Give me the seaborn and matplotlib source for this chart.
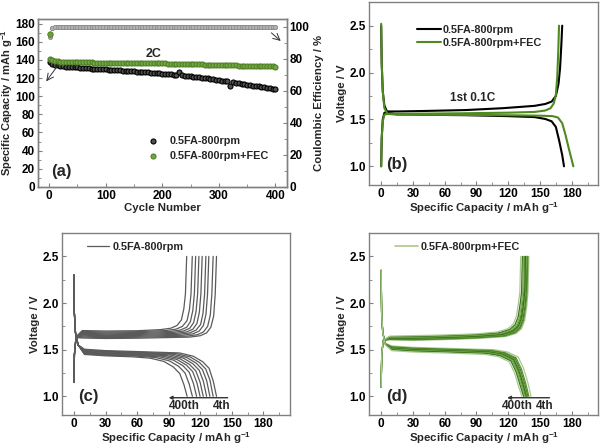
import matplotlib
matplotlib.use("Agg")
import matplotlib.pyplot as plt
from matplotlib.ticker import MultipleLocator, FormatStrFormatter
from matplotlib.lines import Line2D
import seaborn as sns

# ---------------- (a) cycling at 2C (every 5th cycle) ----------------
cycles = [1] + list(range(5, 401, 5))
cap_base = [137.5, 135.5, 134.5, 134.0, 133.5, 133.0, 132.8, 132.5, 132.2, 132.0,
            131.8, 131.5, 131.3, 131.0, 130.8, 130.6, 130.4, 130.2, 130.0, 129.8,
            129.6, 129.4, 129.2, 129.0, 128.8, 128.6, 128.4, 128.2, 128.0, 127.7,
            127.5, 127.3, 127.0, 126.8, 126.6, 126.3, 126.0, 125.8, 125.5, 125.2,
            125.0, 124.7, 124.4, 124.1, 123.8, 123.5, 126.5, 123.0, 122.6, 122.3,
            122.0, 121.6, 121.2, 120.8, 120.4, 120.0, 119.6, 119.2, 118.7, 118.3,
            117.8, 117.3, 116.8, 116.3, 111.0, 115.3, 114.8, 114.3, 113.8, 113.3,
            112.8, 112.3, 111.8, 111.3, 110.8, 110.3, 109.8, 109.3, 108.8, 108.3,
            107.8]
cap_fec = [141.0, 139.5, 139.0, 138.6, 138.3, 138.1, 137.9, 137.8, 137.7, 137.6,
           137.5, 137.5, 137.4, 137.4, 137.3, 137.3, 137.2, 137.2, 137.1, 137.1,
           137.0, 137.0, 136.9, 136.9, 136.9, 136.8, 136.8, 136.8, 136.7, 136.7,
           136.7, 136.6, 136.6, 136.6, 136.5, 136.5, 136.5, 136.4, 136.9, 136.4,
           136.3, 136.2, 136.1, 136.0, 135.9, 135.8, 135.8, 135.7, 135.6, 135.5,
           135.5, 135.4, 135.3, 135.2, 135.1, 135.0, 134.9, 134.9, 134.8, 134.7,
           134.6, 134.5, 134.4, 134.3, 134.2, 134.1, 134.0, 133.9, 133.9, 133.8,
           133.7, 133.6, 133.5, 133.4, 133.3, 133.2, 133.2, 133.1, 133.0, 132.9,
           132.8]
ce_base = [93.8, 99.3, 99.6, 99.7, 99.8, 99.8, 99.8, 99.8, 99.8, 99.8,
           99.8, 99.8, 99.8, 99.8, 99.8, 99.8, 99.8, 99.8, 99.8, 99.8,
           99.8, 99.8, 99.8, 99.8, 99.8, 99.8, 99.8, 99.8, 99.8, 99.8,
           99.8, 99.8, 99.8, 99.8, 99.8, 99.8, 99.8, 99.8, 99.8, 99.8,
           99.8, 99.8, 99.8, 99.8, 99.8, 99.8, 99.8, 99.8, 99.8, 99.8,
           99.8, 99.8, 99.8, 99.8, 99.8, 99.8, 99.8, 99.8, 99.8, 99.8,
           99.8, 99.8, 99.8, 99.8, 99.8, 99.8, 99.8, 99.8, 99.8, 99.8,
           99.8, 99.8, 99.8, 99.8, 99.8, 99.8, 99.8, 99.8, 99.8, 99.8,
           99.8]
ce_fec = [95.4, 99.4, 99.6, 99.7, 99.8, 99.8, 99.8, 99.8, 99.8, 99.8,
          99.8, 99.8, 99.8, 99.8, 99.8, 99.8, 99.8, 99.8, 99.8, 99.8,
          99.8, 99.8, 99.8, 99.8, 99.8, 99.8, 99.8, 99.8, 99.8, 99.8,
          99.8, 99.8, 99.8, 99.8, 99.8, 99.8, 99.8, 99.8, 99.8, 99.8,
          99.8, 99.8, 99.8, 99.8, 99.8, 99.8, 99.8, 99.8, 99.8, 99.8,
          99.8, 99.8, 99.8, 99.8, 99.8, 99.8, 99.8, 99.8, 99.8, 99.8,
          99.8, 99.8, 99.8, 99.8, 99.8, 99.8, 99.8, 99.8, 99.8, 99.8,
          99.8, 99.8, 99.8, 99.8, 99.8, 99.8, 99.8, 99.8, 99.8, 99.8,
          99.8]

# ---------------- (b) first cycle at 0.1C ----------------
b_base_dis_cap = [0, 0.5, 1.5, 3, 6, 15, 40, 80, 120, 145, 155, 161, 165, 168, 171, 172.7]
b_base_dis_v = [2.5, 2.1, 1.8, 1.65, 1.57, 1.555, 1.55, 1.545, 1.535, 1.525, 1.505, 1.48, 1.42, 1.28, 1.12, 1.0]
b_base_chg_cap = [0, 0.5, 1.5, 3, 6, 15, 40, 80, 115, 145, 155, 161, 165, 167.5, 169, 170.2, 171]
b_base_chg_v = [1.0, 1.3, 1.5, 1.57, 1.585, 1.585, 1.59, 1.60, 1.62, 1.645, 1.665, 1.69, 1.75, 1.88, 2.05, 2.3, 2.5]
b_fec_dis_cap = [0, 0.5, 1.5, 3, 6, 15, 40, 80, 120, 150, 162, 167, 171, 174, 177, 179.5, 181.5]
b_fec_dis_v = [2.52, 2.1, 1.8, 1.62, 1.56, 1.55, 1.55, 1.548, 1.545, 1.54, 1.535, 1.52, 1.46, 1.34, 1.2, 1.09, 1.0]
b_fec_chg_cap = [0, 0.5, 1.5, 3, 6, 15, 40, 80, 120, 145, 155, 160, 163, 165, 166.3, 167.2, 168]
b_fec_chg_v = [1.0, 1.3, 1.48, 1.55, 1.56, 1.56, 1.562, 1.566, 1.572, 1.58, 1.595, 1.62, 1.67, 1.76, 1.95, 2.2, 2.5]

# ---------------- (c) 0.5FA-800rpm, 4th ... 400th ----------------
c_chg_cap = [
    [0, 0.5, 2, 8, 30, 60, 110, 120, 126, 130, 132.7, 134.2, 135.4],
    [0, 0.5, 2, 8, 30, 60, 107, 117, 123, 127, 129.5, 131.0, 132.2],
    [0, 0.5, 2, 8, 30, 60, 103, 113, 119, 123, 125.4, 126.9, 128.1],
    [0, 0.5, 2, 8, 30, 60, 100, 110, 116, 120.3, 122.6, 124.1, 125.3],
    [0, 0.5, 2, 8, 30, 60, 97, 107, 113, 116.8, 119.1, 120.6, 121.8],
    [0, 0.5, 2, 8, 30, 60, 94, 104, 110, 113.7, 116.0, 117.5, 118.7],
    [0, 0.5, 2, 8, 30, 60, 91, 101, 107, 110.6, 112.9, 114.4, 115.6],
    [0, 0.5, 2, 8, 30, 60, 87, 97, 103, 107.4, 109.7, 111.2, 112.4],
    [0, 0.5, 2, 8, 30, 60, 82, 92, 98, 102.1, 104.4, 105.9, 107.1],
]
c_chg_v = [
    [1.15, 1.45, 1.63, 1.625, 1.620, 1.623, 1.635, 1.650, 1.680, 1.740, 1.860, 2.1, 2.5],
    [1.15, 1.45, 1.63, 1.635, 1.630, 1.633, 1.645, 1.660, 1.690, 1.750, 1.870, 2.1, 2.5],
    [1.15, 1.45, 1.63, 1.645, 1.640, 1.643, 1.655, 1.670, 1.700, 1.760, 1.880, 2.1, 2.5],
    [1.15, 1.45, 1.63, 1.655, 1.650, 1.653, 1.665, 1.680, 1.710, 1.770, 1.890, 2.1, 2.5],
    [1.15, 1.45, 1.63, 1.665, 1.660, 1.663, 1.675, 1.690, 1.720, 1.780, 1.900, 2.1, 2.5],
    [1.15, 1.45, 1.63, 1.675, 1.670, 1.673, 1.685, 1.700, 1.730, 1.790, 1.910, 2.1, 2.5],
    [1.15, 1.45, 1.63, 1.685, 1.680, 1.683, 1.695, 1.710, 1.740, 1.800, 1.920, 2.1, 2.5],
    [1.15, 1.45, 1.63, 1.695, 1.690, 1.693, 1.705, 1.720, 1.750, 1.810, 1.930, 2.1, 2.5],
    [1.15, 1.45, 1.64, 1.705, 1.700, 1.703, 1.715, 1.730, 1.760, 1.820, 1.940, 2.1, 2.5],
]
c_dis_cap = [
    [0, 0.4, 1.5, 4, 10, 30, 60, 100.4, 113.4, 122.4, 128.4, 132.4, 135.4],
    [0, 0.4, 1.5, 4, 10, 30, 60, 97.2, 110.2, 119.2, 125.2, 129.2, 132.2],
    [0, 0.4, 1.5, 4, 10, 30, 60, 94.1, 107.1, 116.1, 122.1, 126.1, 129.1],
    [0, 0.4, 1.5, 4, 10, 30, 60, 91.0, 104.0, 113.0, 119.0, 123.0, 126.0],
    [0, 0.4, 1.5, 4, 10, 30, 60, 87.8, 100.8, 109.8, 115.8, 119.8, 122.8],
    [0, 0.4, 1.5, 4, 10, 30, 60, 84.8, 97.8, 106.8, 112.8, 116.8, 119.8],
    [0, 0.4, 1.5, 4, 10, 30, 60, 81.5, 94.5, 103.5, 109.5, 113.5, 116.5],
    [0, 0.4, 1.5, 4, 10, 30, 60, 77.5, 90.5, 99.5, 105.5, 109.5, 112.5],
    [0, 0.4, 1.5, 4, 10, 30, 55, 72.5, 85.5, 94.5, 100.5, 104.5, 107.5],
]
c_dis_v = [
    [2.3, 1.9, 1.68, 1.55, 1.505, 1.490, 1.480, 1.465, 1.430, 1.370, 1.300, 1.160, 1.0],
    [2.3, 1.9, 1.68, 1.55, 1.498, 1.483, 1.473, 1.458, 1.423, 1.363, 1.293, 1.173, 1.0],
    [2.3, 1.9, 1.68, 1.55, 1.491, 1.476, 1.466, 1.451, 1.416, 1.356, 1.286, 1.166, 1.0],
    [2.3, 1.9, 1.68, 1.55, 1.484, 1.469, 1.459, 1.444, 1.409, 1.349, 1.279, 1.159, 1.0],
    [2.3, 1.9, 1.68, 1.55, 1.477, 1.462, 1.452, 1.437, 1.402, 1.342, 1.272, 1.152, 1.0],
    [2.3, 1.9, 1.68, 1.55, 1.470, 1.455, 1.445, 1.430, 1.395, 1.335, 1.265, 1.145, 1.0],
    [2.3, 1.9, 1.68, 1.55, 1.463, 1.448, 1.438, 1.423, 1.388, 1.328, 1.258, 1.138, 1.0],
    [2.3, 1.9, 1.68, 1.55, 1.456, 1.441, 1.431, 1.416, 1.381, 1.321, 1.251, 1.131, 1.0],
    [2.3, 1.9, 1.68, 1.55, 1.449, 1.434, 1.424, 1.409, 1.374, 1.314, 1.244, 1.124, 1.0],
]

# ---------------- (d) 0.5FA-800rpm+FEC, 4th ... 400th ----------------
d_chg_cap = [
    [0, 0.5, 2, 8, 30, 60, 90, 117.5, 127.5, 132.5, 135.5, 137.5, 138.7, 139.5],
    [0, 0.5, 2, 8, 30, 60, 90, 116.6, 126.6, 131.6, 134.6, 136.6, 137.8, 138.6],
    [0, 0.5, 2, 8, 30, 60, 90, 115.8, 125.8, 130.8, 133.8, 135.8, 137.0, 137.8],
    [0, 0.5, 2, 8, 30, 60, 90, 115.0, 125.0, 130.0, 133.0, 135.0, 136.2, 137.0],
    [0, 0.5, 2, 8, 30, 60, 90, 114.3, 124.3, 129.3, 132.3, 134.3, 135.5, 136.3],
    [0, 0.5, 2, 8, 30, 60, 90, 113.5, 123.5, 128.5, 131.5, 133.5, 134.7, 135.5],
    [0, 0.5, 2, 8, 30, 60, 90, 112.6, 122.6, 127.6, 130.6, 132.6, 133.8, 134.6],
    [0, 0.5, 2, 8, 30, 60, 90, 111.4, 121.4, 126.4, 129.4, 131.4, 132.6, 133.4],
    [0, 0.5, 2, 8, 30, 60, 90, 109.8, 119.8, 124.8, 127.8, 129.8, 131.0, 131.8],
]
d_chg_v = [
    [1.1, 1.45, 1.60, 1.605, 1.600, 1.608, 1.620, 1.640, 1.675, 1.725, 1.810, 1.960, 2.12, 2.5],
    [1.1, 1.45, 1.60, 1.610, 1.606, 1.614, 1.626, 1.646, 1.681, 1.731, 1.816, 1.966, 2.12, 2.5],
    [1.1, 1.45, 1.60, 1.615, 1.612, 1.620, 1.632, 1.652, 1.687, 1.737, 1.822, 1.972, 2.12, 2.5],
    [1.1, 1.45, 1.60, 1.620, 1.618, 1.626, 1.638, 1.658, 1.693, 1.743, 1.828, 1.978, 2.12, 2.5],
    [1.1, 1.45, 1.60, 1.625, 1.624, 1.632, 1.644, 1.664, 1.699, 1.749, 1.834, 1.984, 2.12, 2.5],
    [1.1, 1.45, 1.60, 1.630, 1.630, 1.638, 1.650, 1.670, 1.705, 1.755, 1.840, 1.990, 2.12, 2.5],
    [1.1, 1.45, 1.60, 1.635, 1.636, 1.644, 1.656, 1.676, 1.711, 1.761, 1.846, 1.996, 2.12, 2.5],
    [1.1, 1.45, 1.60, 1.640, 1.642, 1.650, 1.662, 1.682, 1.717, 1.767, 1.852, 2.002, 2.12, 2.5],
    [1.1, 1.45, 1.60, 1.645, 1.650, 1.658, 1.670, 1.690, 1.725, 1.775, 1.860, 2.010, 2.12, 2.5],
]
d_dis_cap = [
    [0, 0.4, 1.5, 4, 10, 30, 60, 106.5, 119.5, 129.5, 134.5, 138.5, 141.5],
    [0, 0.4, 1.5, 4, 10, 30, 60, 104.5, 117.5, 127.5, 132.5, 136.5, 139.5],
    [0, 0.4, 1.5, 4, 10, 30, 60, 103.5, 116.5, 126.5, 131.5, 135.5, 138.5],
    [0, 0.4, 1.5, 4, 10, 30, 60, 102.8, 115.8, 125.8, 130.8, 134.8, 137.8],
    [0, 0.4, 1.5, 4, 10, 30, 60, 102.0, 115.0, 125.0, 130.0, 134.0, 137.0],
    [0, 0.4, 1.5, 4, 10, 30, 60, 101.3, 114.3, 124.3, 129.3, 133.3, 136.3],
    [0, 0.4, 1.5, 4, 10, 30, 60, 100.5, 113.5, 123.5, 128.5, 132.5, 135.5],
    [0, 0.4, 1.5, 4, 10, 30, 60, 99.5, 112.5, 122.5, 127.5, 131.5, 134.5],
    [0, 0.4, 1.5, 4, 10, 30, 60, 98.0, 111.0, 121.0, 126.0, 130.0, 133.0],
]
d_dis_v = [
    [2.35, 1.9, 1.68, 1.57, 1.540, 1.525, 1.515, 1.500, 1.475, 1.420, 1.300, 1.150, 1.0],
    [2.35, 1.9, 1.68, 1.56, 1.532, 1.517, 1.507, 1.492, 1.467, 1.412, 1.292, 1.142, 1.0],
    [2.35, 1.9, 1.68, 1.56, 1.526, 1.511, 1.501, 1.486, 1.461, 1.406, 1.286, 1.136, 1.0],
    [2.35, 1.9, 1.68, 1.56, 1.520, 1.505, 1.495, 1.480, 1.455, 1.400, 1.280, 1.130, 1.0],
    [2.35, 1.9, 1.68, 1.56, 1.515, 1.500, 1.490, 1.475, 1.450, 1.395, 1.275, 1.125, 1.0],
    [2.35, 1.9, 1.68, 1.56, 1.510, 1.495, 1.485, 1.470, 1.445, 1.390, 1.270, 1.120, 1.0],
    [2.35, 1.9, 1.68, 1.56, 1.505, 1.490, 1.480, 1.465, 1.440, 1.385, 1.265, 1.115, 1.0],
    [2.35, 1.9, 1.68, 1.56, 1.500, 1.485, 1.475, 1.460, 1.435, 1.380, 1.260, 1.110, 1.0],
    [2.35, 1.9, 1.68, 1.55, 1.490, 1.475, 1.465, 1.450, 1.425, 1.370, 1.250, 1.100, 1.0],
]
d_colors = ["#a9c98f", "#5d9436", "#3f7a1c", "#6fa048", "#2f6b12",
            "#4f8a28", "#7fae5a", "#3a7519", "#a9c98f"]

sns.set_theme(style="ticks")
plt.rcParams["font.family"] = ["Liberation Sans", "DejaVu Sans"]
plt.rcParams["font.weight"] = "bold"
plt.rcParams["axes.labelweight"] = "bold"
plt.rcParams["mathtext.fontset"] = "custom"
plt.rcParams["mathtext.bf"] = "Liberation Sans:bold"
plt.rcParams["mathtext.rm"] = "Liberation Sans:bold"
plt.rcParams["mathtext.default"] = "bf"

SPINE = "#808080"
LAB = 8.2
fig = plt.figure(figsize=(6, 4.47), dpi=100)


def style(ax, xmaj, xmin, ymaj, ymin):
    for s in ax.spines.values():
        s.set_color(SPINE)
        s.set_linewidth(1.0)
    ax.xaxis.set_major_locator(MultipleLocator(xmaj))
    ax.xaxis.set_minor_locator(MultipleLocator(xmin))
    ax.yaxis.set_major_locator(MultipleLocator(ymaj))
    ax.yaxis.set_minor_locator(MultipleLocator(ymin))
    ax.tick_params(which="both", direction="in", color=SPINE, labelsize=8.5,
                   labelcolor="black", pad=2)
    ax.tick_params(which="major", length=3, width=0.8)
    ax.tick_params(which="minor", length=2, width=0.6)


def volt_axes(ax):
    ax.set_xlim(-11.5, 205)
    ax.set_ylim(0.8, 2.75)
    style(ax, 30, 15, 0.5, 0.25)
    ax.set_xlabel("Specific Capacity / mAh g$^{-1}$", fontsize=LAB, labelpad=0.5)
    ax.set_ylabel("Voltage / V", fontsize=LAB, labelpad=2)
    ax.yaxis.set_major_formatter(FormatStrFormatter("%.1f"))


# ---- (a)
ax = fig.add_axes([0.063, 0.582, 0.415, 0.376])
ax2 = ax.twinx()
sns.scatterplot(x=cycles, y=ce_base, ax=ax2, color="#a8a8a8", edgecolor="#787878",
                s=9, linewidth=0.5, legend=False)
sns.scatterplot(x=cycles, y=ce_fec, ax=ax2, color="#b4b4b4", edgecolor="#888888",
                s=9, linewidth=0.5, legend=False)
sns.scatterplot(x=cycles[:1], y=ce_fec[:1], ax=ax2, color="#6a9e3a", edgecolor="#4a7a22",
                s=16, linewidth=0.5, legend=False)
sns.scatterplot(x=cycles, y=cap_base, ax=ax, color="#505050", edgecolor="black",
                s=13, linewidth=0.8, label="0.5FA-800rpm")
sns.scatterplot(x=cycles, y=cap_fec, ax=ax, color="#74a844", edgecolor="#4f8024",
                s=13, linewidth=0.8, label="0.5FA-800rpm+FEC")
ax.set_xlim(-20, 420)
ax.set_ylim(0, 185.5)
ax2.set_ylim(0, 105)
style(ax, 100, 50, 20, 10)
style(ax2, 100, 50, 20, 10)
ax.set_xlabel("Cycle Number", fontsize=LAB, labelpad=1)
ax.set_ylabel("Specific Capacity / mAh g$^{-1}$", fontsize=8.0)
ax.yaxis.set_label_coords(-0.09, 0.5)
ax2.set_ylabel("Coulombic Efficiency / %", fontsize=LAB, labelpad=3)
ax.legend(loc="lower left", bbox_to_anchor=(0.40, 0.13), frameon=False,
          fontsize=7.8, handletextpad=0.6, labelspacing=0.4, markerscale=1.0,
          borderaxespad=0)
ax.text(185, 147, "2C", fontsize=9, ha="center", va="center")
ax.text(0.055, 0.09, "(a)", transform=ax.transAxes, fontsize=12, va="center")
ax.annotate("", xy=(-8, 114), xytext=(19, 137),
            arrowprops=dict(arrowstyle="->", color="#333333", lw=0.7))
ax.annotate("", xy=(413, 159), xytext=(389, 172),
            arrowprops=dict(arrowstyle="->", color="#333333", lw=0.7))

# ---- (b)
bx = fig.add_axes([0.615, 0.586, 0.382, 0.409])
sns.lineplot(x=b_base_dis_cap, y=b_base_dis_v, sort=False, estimator=None, ax=bx,
             color="black", lw=1.5)
sns.lineplot(x=b_base_chg_cap, y=b_base_chg_v, sort=False, estimator=None, ax=bx,
             color="black", lw=1.5)
sns.lineplot(x=b_fec_dis_cap, y=b_fec_dis_v, sort=False, estimator=None, ax=bx,
             color="#4e8a1e", lw=1.5)
sns.lineplot(x=b_fec_chg_cap, y=b_fec_chg_v, sort=False, estimator=None, ax=bx,
             color="#4e8a1e", lw=1.5)
volt_axes(bx)
bx.legend(handles=[Line2D([], [], color="black", lw=1.5),
                   Line2D([], [], color="#4e8a1e", lw=1.5)],
          labels=["0.5FA-800rpm", "0.5FA-800rpm+FEC"], loc="upper left",
          bbox_to_anchor=(0.19, 0.90), frameon=False, fontsize=7.8,
          handlelength=2.2, handletextpad=0.2, labelspacing=0.3, borderaxespad=0)
bx.text(86, 1.73, "1st 0.1C", fontsize=8.5, ha="center", va="center")
bx.text(0.075, 0.11, "(b)", transform=bx.transAxes, fontsize=12, va="center")

# ---- (c)
cx = fig.add_axes([0.103, 0.0716, 0.38, 0.407])
for cap, v in zip(c_chg_cap, c_chg_v):
    sns.lineplot(x=cap, y=v, sort=False, estimator=None, ax=cx, color="#5a5a5a", lw=0.9)
for cap, v in zip(c_dis_cap, c_dis_v):
    sns.lineplot(x=cap, y=v, sort=False, estimator=None, ax=cx, color="#5a5a5a", lw=0.9)
volt_axes(cx)
cx.legend(handles=[Line2D([], [], color="#5a5a5a", lw=0.9)], labels=["0.5FA-800rpm"],
          loc="upper left", bbox_to_anchor=(0.09, 0.975), frameon=False, fontsize=7.8,
          handlelength=2.1, handletextpad=0.3, borderaxespad=0)
cx.annotate("", xy=(90, 0.985), xytext=(146, 0.985),
            arrowprops=dict(arrowstyle="-|>", color="#333333", lw=1.0,
                            mutation_scale=5, shrinkA=0, shrinkB=0))
cx.text(90, 0.96, "400th", fontsize=8.5, ha="left", va="top")
cx.text(132, 0.96, "4th", fontsize=8.5, ha="left", va="top")
cx.text(0.07, 0.10, "(c)", transform=cx.transAxes, fontsize=12, va="center")

# ---- (d)
dx = fig.add_axes([0.615, 0.0716, 0.382, 0.407])
for cap, v, col in zip(d_chg_cap, d_chg_v, d_colors):
    sns.lineplot(x=cap, y=v, sort=False, estimator=None, ax=dx, color=col, lw=0.9)
for cap, v, col in zip(d_dis_cap, d_dis_v, d_colors):
    sns.lineplot(x=cap, y=v, sort=False, estimator=None, ax=dx, color=col, lw=0.9)
volt_axes(dx)
dx.legend(handles=[Line2D([], [], color="#a9c98f", lw=1.2)], labels=["0.5FA-800rpm+FEC"],
          loc="upper left", bbox_to_anchor=(0.095, 0.975), frameon=False, fontsize=7.8,
          handlelength=2.1, handletextpad=0.3, borderaxespad=0)
dx.annotate("", xy=(119, 0.985), xytext=(159, 0.985),
            arrowprops=dict(arrowstyle="-|>", color="#333333", lw=1.0,
                            mutation_scale=5, shrinkA=0, shrinkB=0))
dx.text(114, 0.96, "400th", fontsize=8.5, ha="left", va="top")
dx.text(146, 0.96, "4th", fontsize=8.5, ha="left", va="top")
dx.text(0.075, 0.10, "(d)", transform=dx.transAxes, fontsize=12, va="center")

fig.savefig("out.png", dpi=100)
